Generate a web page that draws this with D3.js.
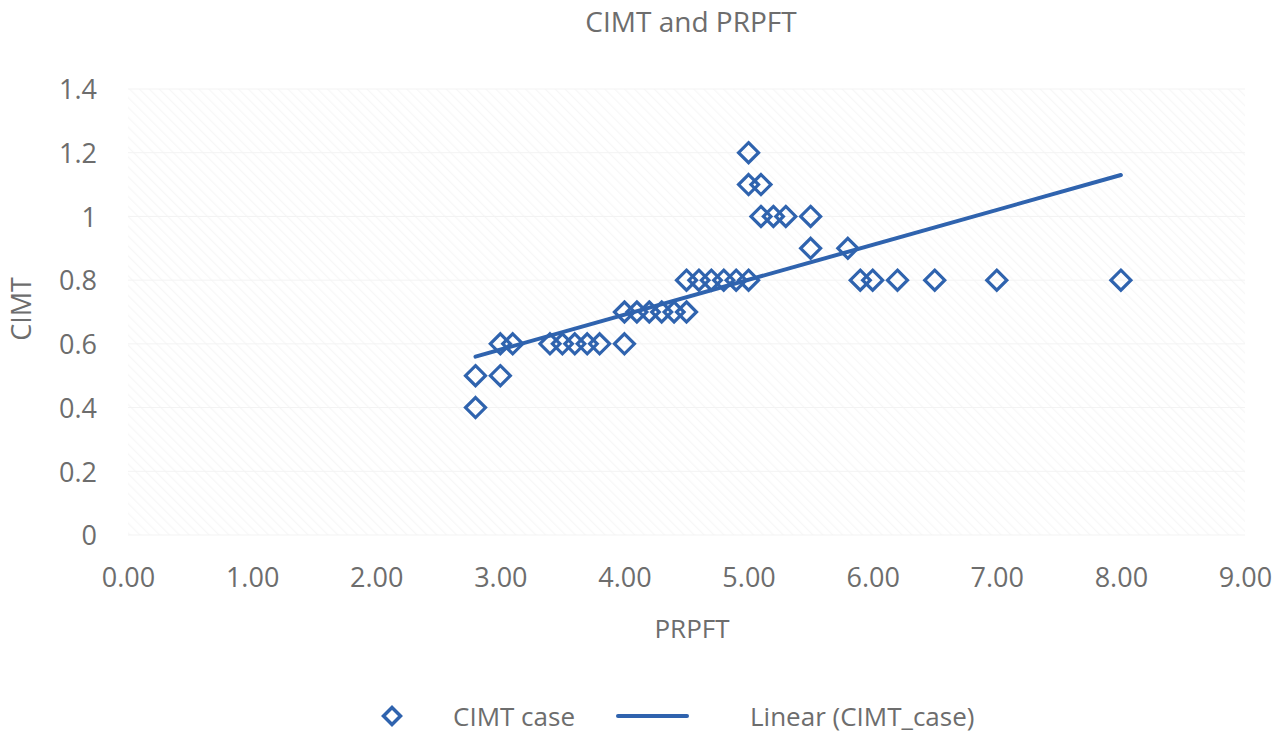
<!DOCTYPE html>
<html>
<head>
<meta charset="utf-8">
<script src="https://cdnjs.cloudflare.com/ajax/libs/d3/7.8.5/d3.min.js"></script>
<style>
  body { margin: 0; background: #fff; }
  text { font-family: "Open Sans", sans-serif; fill: #6d6d6d; }
</style>
</head>
<body>
<script>
// values
const prpft = [2.8, 2.8, 3.0, 3.0, 3.1, 3.4, 3.5, 3.6, 3.7, 3.8, 4.0,
               4.0, 4.1, 4.2, 4.3, 4.4, 4.5,
               4.5, 4.6, 4.7, 4.8, 4.9, 5.0,
               5.0, 5.0, 5.1, 5.1, 5.2, 5.3, 5.5,
               5.5, 5.8,
               5.9, 6.0, 6.2, 6.5, 7.0, 8.0]
const cimt = [0.4, 0.5, 0.5, 0.6, 0.6, 0.6, 0.6, 0.6, 0.6, 0.6, 0.6,
              0.7, 0.7, 0.7, 0.7, 0.7, 0.7,
              0.8, 0.8, 0.8, 0.8, 0.8, 0.8,
              1.2, 1.1, 1.1, 1.0, 1.0, 1.0, 1.0,
              0.9, 0.9,
              0.8, 0.8, 0.8, 0.8, 0.8, 0.8]
// linear trend line ends, as drawn in the picture
const trendX = [2.8, 8.0]
const trendY = [0.56, 1.13]
const xTicks = [0, 1, 2, 3, 4, 5, 6, 7, 8, 9]
const yTicks = [0, 0.2, 0.4, 0.6, 0.8, 1, 1.2, 1.4]
const yTickLabels = ["0", "0.2", "0.4", "0.6", "0.8", "1", "1.2", "1.4"]

const width = 1280
const height = 734
const pLeft = 128, pRight = 1245, pTop = 89, pBottom = 535
const blue = "#2f63ae"
const grey = "#6d6d6d"

const svg = d3.select("body").append("svg")
    .attr("width", width)
    .attr("height", height)

const x = d3.scaleLinear().domain([0, 9]).range([pLeft, pRight])
const y = d3.scaleLinear().domain([0, 1.4]).range([pBottom, pTop])

// very faint hatched plot area
const defs = svg.append("defs")
const pat = defs.append("pattern")
    .attr("id", "hatch")
    .attr("patternUnits", "userSpaceOnUse")
    .attr("width", 7).attr("height", 7)
    .attr("patternTransform", "rotate(-45)")
pat.append("rect").attr("width", 7).attr("height", 7).attr("fill", "#fff")
pat.append("line").attr("x1", 0).attr("y1", 0).attr("x2", 0).attr("y2", 7)
    .attr("stroke", "#f7f7f7").attr("stroke-width", 2.5)

svg.append("rect")
    .attr("x", pLeft).attr("y", pTop)
    .attr("width", pRight - pLeft).attr("height", pBottom - pTop)
    .attr("fill", "url(#hatch)")

// gridlines
svg.append("g")
    .selectAll("line")
    .data(yTicks)
    .join("line")
    .attr("x1", pLeft).attr("x2", pRight)
    .attr("y1", d => y(d)).attr("y2", d => y(d))
    .attr("stroke", "#f3f3f3").attr("stroke-width", 1)

// axes (labels only)
const xAxis = svg.append("g")
    .attr("transform", `translate(0,${pBottom})`)
    .call(d3.axisBottom(x).tickValues(xTicks).tickFormat(d3.format(".2f")).tickSize(0))
xAxis.select(".domain").remove()
xAxis.selectAll("text")
    .attr("y", 52).attr("dy", 0)
    .style("font-size", "27px").style("font-family", "Open Sans").attr("fill", grey)

const yAxis = svg.append("g")
    .attr("transform", `translate(${pLeft},0)`)
    .call(d3.axisLeft(y).tickValues(yTicks).tickFormat((d, i) => yTickLabels[i]).tickSize(0).tickPadding(31))
yAxis.select(".domain").remove()
yAxis.selectAll("text")
    .attr("dy", "0.36em")
    .style("font-size", "27px").style("font-family", "Open Sans").attr("fill", grey)

// trend line
svg.append("line")
    .attr("x1", x(trendX[0])).attr("y1", y(trendY[0]))
    .attr("x2", x(trendX[1])).attr("y2", y(trendY[1]))
    .attr("stroke", blue).attr("stroke-width", 4).attr("stroke-linecap", "round")

// diamonds
const diamond = "M0,-10L10,0L0,10L-10,0Z"
svg.append("g")
    .selectAll("path")
    .data(prpft.map((v, i) => [v, cimt[i]]))
    .join("path")
    .attr("d", diamond)
    .attr("transform", d => `translate(${x(d[0])},${y(d[1])})`)
    .attr("fill", "none")
    .attr("stroke", blue)
    .attr("stroke-width", 3.2)

// titles
svg.append("text")
    .attr("x", 691).attr("y", 32)
    .attr("text-anchor", "middle")
    .style("font-size", "28px")
    .text("CIMT and PRPFT")

svg.append("text")
    .attr("x", 692).attr("y", 638)
    .attr("text-anchor", "middle")
    .style("font-size", "26px")
    .text("PRPFT")

svg.append("text")
    .attr("transform", "translate(31,309) rotate(-90)")
    .attr("text-anchor", "middle")
    .style("font-size", "27px")
    .text("CIMT")

// legend
const lg = svg.append("g").attr("transform", "translate(0,716)")
lg.append("path")
    .attr("d", "M0,-8.5L8.5,0L0,8.5L-8.5,0Z")
    .attr("transform", "translate(392,0)")
    .attr("fill", "none").attr("stroke", blue).attr("stroke-width", 3.5)
lg.append("text").attr("x", 453).attr("y", 10).style("font-size", "26px").text("CIMT case")
lg.append("line").attr("x1", 618).attr("x2", 687).attr("y1", 0).attr("y2", 0)
    .attr("stroke", blue).attr("stroke-width", 4).attr("stroke-linecap", "round")
lg.append("text").attr("x", 750).attr("y", 10).style("font-size", "26px").text("Linear (CIMT_case)")
</script>
</body>
</html>
